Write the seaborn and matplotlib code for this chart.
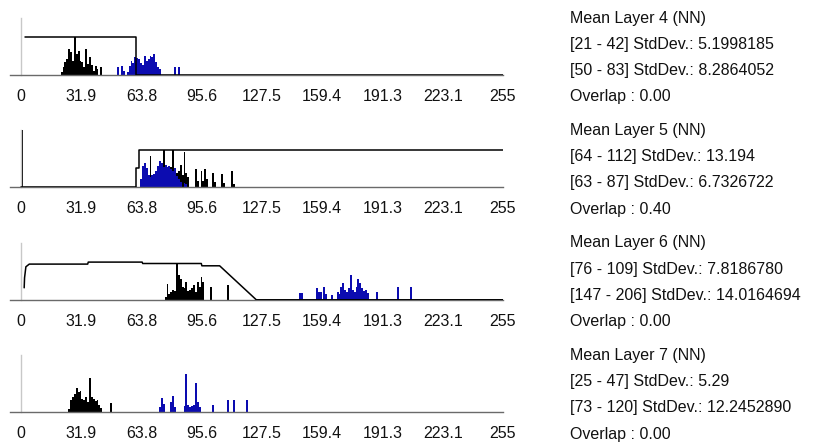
import numpy as np
import pandas as pd
import matplotlib
matplotlib.use("Agg")
import matplotlib.pyplot as plt
import seaborn as sns

# ---------------- data ----------------
TICK_VALUES = [0, 31.875, 63.75, 95.625, 127.5, 159.375, 191.25, 223.125, 255]
TICK_LABELS = ["0", "31.9", "63.8", "95.6", "127.5", "159.4", "191.3", "223.1", "255"]

# Layer 4
L4_BLACK_BINS = [21, 22, 23, 24, 25, 26, 27, 28, 29, 30, 31, 32, 33, 34, 35, 36, 37, 38, 39, 40, 42]
L4_BLACK_COUNTS = [3, 8, 13, 16, 26, 23, 14, 38, 21, 24, 14, 13, 8, 26, 11, 18, 10, 4, 9, 6, 8]
L4_BLUE_BINS = [51, 53, 54, 56, 57, 58, 59, 60, 61, 62, 63, 64, 65, 66, 67, 68, 69, 70, 71, 72, 73, 81, 83]
L4_BLUE_COUNTS = [8, 9, 4, 3, 9, 14, 12, 18, 17, 16, 12, 10, 19, 14, 16, 19, 18, 21, 13, 8, 6, 8, 8]
L4_CURVE_X = [2, 60.6, 60.6, 255]
L4_CURVE_Y = [38, 38, 0, 0]

# Layer 5
L5_BLACK_BINS = [0, 64, 65, 66, 67, 68, 69, 70, 71, 72, 73, 74, 75, 76, 77, 78, 79, 80, 81, 82, 83,
                 84, 85, 86, 87, 88, 92, 93, 95, 96, 97, 98, 101, 102, 106, 107, 111, 112]
L5_BLACK_COUNTS = [57, 6, 8, 10, 9, 31, 8, 7, 9, 10, 12, 15, 37, 14, 12, 15, 20, 37, 14, 14, 16,
                   22, 12, 35, 14, 10, 18, 6, 16, 6, 18, 8, 14, 5, 13, 4, 16, 3]
L5_BLUE_BINS = [63, 64, 65, 66, 67, 68, 69, 70, 71, 72, 73, 74, 75, 76, 77, 78, 79, 80, 81, 82, 83, 84, 86, 87]
L5_BLUE_COUNTS = [8, 21, 24, 19, 12, 10, 12, 13, 16, 21, 26, 24, 20, 22, 20, 21, 18, 16, 19, 11, 8, 5, 4, 3]
L5_CURVE_X = [0, 60.8, 60.8, 62.2, 62.2, 255]
L5_CURVE_Y = [0, 0, 19, 19, 37.5, 37.5]

# Layer 6
L6_BLACK_BINS = [76, 77, 78, 79, 80, 81, 82, 83, 84, 85, 86, 87, 88, 89, 90, 91, 92, 93, 94, 95, 96, 100, 109]
L6_BLACK_COUNTS = [3, 16, 6, 8, 10, 9, 37, 25, 21, 13, 12, 18, 9, 10, 12, 15, 8, 18, 13, 23, 18, 13, 15]
L6_BLUE_BINS = [147, 148, 156, 157, 158, 160, 161, 164, 167, 168, 169, 170, 171, 172, 173, 174, 175,
                176, 177, 178, 179, 180, 181, 182, 183, 188, 199, 206]
L6_BLUE_COUNTS = [7, 7, 12, 8, 8, 13, 6, 5, 8, 6, 13, 17, 10, 8, 12, 25, 10,
                  8, 13, 21, 17, 12, 9, 10, 7, 8, 13, 13]
L6_CURVE_X = [1.7, 1.9, 2.6, 4.4, 35.3, 35.6, 64.1, 64.4, 95.4, 95.7, 105.1, 124.5, 255]
L6_CURVE_Y = [12, 22, 33, 35.7, 35.7, 37.7, 37.7, 36.3, 36.3, 34, 34, 0, 0]

# Layer 7
L7_BLACK_BINS = [25, 26, 27, 28, 29, 30, 31, 32, 33, 34, 35, 36, 37, 38, 39, 40, 41, 42, 47]
L7_BLACK_COUNTS = [3, 12, 15, 18, 24, 20, 21, 13, 12, 15, 10, 34, 15, 13, 11, 12, 7, 4, 9]
L7_BLUE_BINS = [73, 74, 75, 79, 80, 81, 86, 87, 88, 89, 90, 91, 92, 93, 94, 101, 109, 112, 119]
L7_BLUE_COUNTS = [5, 14, 8, 10, 16, 5, 6, 38, 7, 5, 6, 7, 29, 10, 5, 7, 12, 12, 12]

L4_TEXT = ["Mean Layer 4 (NN)", "[21 - 42] StdDev.: 5.1998185", "[50 - 83] StdDev.: 8.2864052", "Overlap : 0.00"]
L5_TEXT = ["Mean Layer 5 (NN)", "[64 - 112] StdDev.: 13.194", "[63 - 87] StdDev.: 6.7326722", "Overlap : 0.40"]
L6_TEXT = ["Mean Layer 6 (NN)", "[76 - 109] StdDev.: 7.8186780", "[147 - 206] StdDev.: 14.0164694", "Overlap : 0.00"]
L7_TEXT = ["Mean Layer 7 (NN)", "[25 - 47] StdDev.: 5.29", "[73 - 120] StdDev.: 12.2452890", "Overlap : 0.00"]

# ---------------- style ----------------
sns.set_style("white")
plt.rcParams["font.family"] = ["Liberation Sans", "DejaVu Sans"]

BLACK = "#000000"
BLUE = "#0c0cb0"

W, H = 828, 445
fig = plt.figure(figsize=(W / 100, H / 100), dpi=100)

panels = [
    (L4_BLACK_BINS, L4_BLACK_COUNTS, L4_BLUE_BINS, L4_BLUE_COUNTS, (L4_CURVE_X, L4_CURVE_Y), L4_TEXT),
    (L5_BLACK_BINS, L5_BLACK_COUNTS, L5_BLUE_BINS, L5_BLUE_COUNTS, (L5_CURVE_X, L5_CURVE_Y), L5_TEXT),
    (L6_BLACK_BINS, L6_BLACK_COUNTS, L6_BLUE_BINS, L6_BLUE_COUNTS, (L6_CURVE_X, L6_CURVE_Y), L6_TEXT),
    (L7_BLACK_BINS, L7_BLACK_COUNTS, L7_BLUE_BINS, L7_BLUE_COUNTS, None, L7_TEXT),
]

PANEL_H = 57
for i, (bb, bc, ub, uc, curve, texts) in enumerate(panels):
    top = 18 + 112.4 * i
    ax = fig.add_axes([10 / W, 1 - (top + PANEL_H) / H, 493 / W, PANEL_H / H])
    for bins, counts, col in [(bb, bc, BLACK), (ub, uc, BLUE)]:
        df = pd.DataFrame({"value": bins, "count": counts})
        sns.histplot(data=df, x="value", weights="count", binwidth=1, binrange=(0, 256),
                     color=col, alpha=1, linewidth=0, ax=ax)
    if curve is not None:
        cdf = pd.DataFrame({"x": curve[0], "y": curve[1]})
        sns.lineplot(data=cdf, x="x", y="y", sort=False, estimator=None, color="black",
                     linewidth=1.1, ax=ax, zorder=5)
    ax.set_xlim(-5.8, 255)
    ax.set_ylim(0, PANEL_H)
    ax.set_xlabel("")
    ax.set_ylabel("")
    ax.set_yticks([])
    ax.set_xticks(TICK_VALUES, TICK_LABELS)
    ax.tick_params(axis="x", direction="in", length=3, color="#909090", width=1,
                   pad=10, labelsize=11.5, labelcolor="#111111")
    for s in ["top", "right"]:
        ax.spines[s].set_visible(False)
    ax.spines["left"].set_position(("data", 0))
    ax.spines["left"].set_color("#c8c8c8")
    ax.spines["left"].set_linewidth(1)
    ax.spines["bottom"].set_color("#6a6a6a")
    ax.spines["bottom"].set_linewidth(1)
    ax.patch.set_alpha(0)

    for j, t in enumerate(texts):
        y = top + 26.3 * j
        fig.text(570 / W, 1 - y / H, t, fontsize=11.5, ha="left", va="center", color="#111111")

fig.savefig("out.png", dpi=100)
